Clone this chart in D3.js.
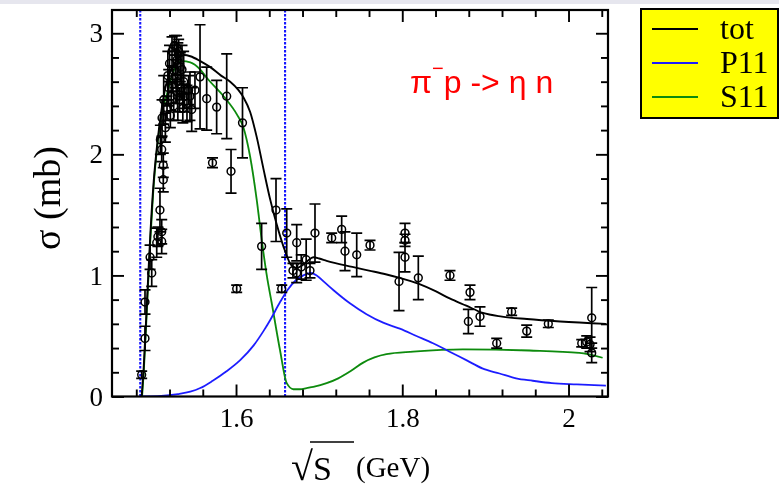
<!DOCTYPE html>
<html><head><meta charset="utf-8">
<script src="https://cdn.jsdelivr.net/npm/d3@7"></script>
<style>body{margin:0;background:#fff;} svg{display:block}</style>
</head><body>
<svg id="c" width="779" height="488"></svg>
<script>
// ---- data ----
const totX = [1.4865,1.489,1.493,1.497,1.501,1.505,1.510,1.515,1.520,1.527,1.538,1.545,1.557,1.569,1.582,1.593,1.603,1.609,1.617,1.625,1.633,1.641,1.649,1.657,1.665,1.672,1.679,1.686,1.693,1.700,1.709,1.740,1.760,1.780,1.797,1.820,1.840,1.857,1.877,1.897,1.920,1.950,1.990,2.045];
const totY = [0,0.25,0.8,1.35,1.78,2.07,2.35,2.55,2.67,2.76,2.82,2.81,2.77,2.72,2.65,2.60,2.53,2.47,2.35,2.14,1.88,1.63,1.42,1.24,1.10,1.06,1.08,1.12,1.15,1.14,1.12,1.07,1.04,1.01,0.98,0.93,0.87,0.81,0.75,0.69,0.66,0.64,0.62,0.60];
const p11X = [1.4855,1.51,1.53,1.545,1.557,1.572,1.589,1.605,1.621,1.633,1.641,1.653,1.662,1.672,1.681,1.690,1.697,1.707,1.717,1.737,1.757,1.777,1.797,1.817,1.837,1.857,1.877,1.897,1.917,1.937,1.957,1.980,2.010,2.045];
const p11Y = [0,0.005,0.02,0.04,0.07,0.13,0.21,0.30,0.42,0.54,0.63,0.78,0.88,0.96,1.00,1.02,1.00,0.94,0.88,0.77,0.68,0.61,0.56,0.50,0.44,0.37,0.30,0.23,0.19,0.15,0.13,0.11,0.10,0.09];
const s11X = [1.487,1.489,1.493,1.497,1.5005,1.5047,1.511,1.517,1.5243,1.535,1.545,1.557,1.565,1.585,1.601,1.609,1.617,1.625,1.631,1.637,1.643,1.653,1.661,1.669,1.677,1.685,1.693,1.709,1.723,1.738,1.753,1.781,1.813,1.873,1.953,2.013,2.041];
const s11Y = [0,0.2,0.75,1.3,1.7,2.03,2.35,2.5,2.68,2.77,2.76,2.70,2.63,2.48,2.33,2.22,1.98,1.62,1.29,1.0,0.77,0.38,0.11,0.06,0.06,0.07,0.08,0.11,0.15,0.21,0.28,0.35,0.37,0.39,0.38,0.36,0.32];

const dataX = [1.4865,1.4905,1.4905,1.4986,1.4966,1.5046,1.5106,1.5106,1.506,1.5085,1.5125,1.5125,1.5106,
  1.509,1.511,1.513,1.515,1.517,1.519,1.521,1.522,1.524,1.525,1.527,1.528,1.529,1.530,1.531,1.532,1.533,1.534,1.536,1.538,1.541,1.543,1.5446,1.5467,1.5506,
  1.518,1.520,1.523,1.526,1.5285,1.535,1.537,
  1.5567,1.5647,1.5767,1.5888,1.6078,1.5717,1.5940,1.6008,1.6308,1.6481,1.6610,1.6550,1.6730,1.6844,1.6785,1.6730,1.6685,1.6890,1.6950,
  1.7151,1.7271,1.7311,1.7452,1.7612,1.8033,1.8033,1.8033,1.7961,1.8193,1.8574,1.8815,1.8795,1.8935,1.9316,1.9497,1.9136,1.9757,2.0279,2.0159,2.0219,2.0259,2.0279];
const dataY = [0.18,0.48,0.78,1.02,1.15,1.27,1.28,1.36,1.32,1.54,1.79,1.91,2.04,
  2.12,2.30,2.45,2.22,2.38,2.55,2.32,2.48,2.62,2.40,2.70,2.52,2.78,2.60,2.85,2.45,2.72,2.55,2.38,2.48,2.42,2.53,2.48,2.37,2.53,
  2.65,2.75,2.85,2.90,2.88,2.70,2.60,
  2.64,2.46,2.39,2.48,2.26,1.93,1.86,0.89,1.24,1.54,1.35,0.89,1.27,1.13,1.07,1.02,1.04,1.04,1.35,
  1.31,1.38,1.20,1.17,1.25,1.35,1.29,1.15,0.95,0.98,1.00,0.86,0.62,0.66,0.70,0.54,0.44,0.60,0.65,0.44,0.45,0.43,0.36];
const dataErr = [0.03,0.10,0.10,0.11,0.10,0.12,0.10,0.10,0.08,0.18,0.10,0.10,0.10,
  0.12,0.15,0.20,0.12,0.10,0.15,0.10,0.12,0.10,0.12,0.15,0.10,0.12,0.32,0.10,0.10,0.12,0.10,0.12,0.10,0.15,0.12,0.20,0.18,0.15,
  0.20,0.15,0.12,0.08,0.10,0.20,0.25,
  0.43,0.26,0.22,0.35,0.29,0.04,0.18,0.03,0.19,0.26,0.20,0.03,0.15,0.17,0.10,0.08,0.06,0.06,0.24,
  0.04,0.11,0.16,0.18,0.04,0.08,0.05,0.12,0.24,0.18,0.04,0.06,0.10,0.08,0.03,0.05,0.04,0.03,0.25,0.03,0.05,0.06,0.08];

const xMajor = [1.6, 1.8, 2.0];
const xMajorLabels = ["1.6", "1.8", "2"];
const xMinor = [1.48,1.52,1.56,1.64,1.68,1.72,1.76,1.84,1.88,1.92,1.96,2.04];
const yMajor = [0, 1, 2, 3];
const yMajorLabels = ["0", "1", "2", "3"];
const yMinor = [0.2,0.4,0.6,0.8,1.2,1.4,1.6,1.8,2.2,2.4,2.6,2.8];
const thresholds = [1.4848, 1.659];
const legendLabels = ["tot", "P11", "S11"];
const xDomain = [1.4508, 2.0475];
const yDomain = [0, 3.192];

// ---- drawing ----
const svg = d3.select("#c").style("font-family","Liberation Serif, serif");
const L = 112, R = 608, T = 10, B = 396.5;
const x = d3.scaleLinear().domain(xDomain).range([L, R]);
const y = d3.scaleLinear().domain(yDomain).range([B, T]);

const defs = svg.append("defs");
defs.append("filter").attr("id","soft").attr("x","-5%").attr("y","-5%").attr("width","110%").attr("height","110%")
  .append("feGaussianBlur").attr("stdDeviation",0.45);

svg.append("rect").attr("x",0).attr("y",0).attr("width",779).attr("height",4).attr("fill","#e6e6ee");

const root = svg.append("g").attr("filter","url(#soft)");
const serif = "Liberation Serif, serif";
const cols = {tot:"#000000", P11:"#1f1fff", S11:"#0a8a0a"};

// clip
defs.append("clipPath").attr("id","pc").append("rect").attr("x",L).attr("y",T).attr("width",R-L).attr("height",B-T);
const plot = root.append("g").attr("clip-path","url(#pc)");

// threshold lines
plot.selectAll("line.th").data(thresholds).enter().append("line")
  .attr("x1",d=>x(d)).attr("x2",d=>x(d)).attr("y1",T).attr("y2",B)
  .attr("stroke","#1414ff").attr("stroke-width",2.1).attr("stroke-dasharray","2.4,1.6");

function drawCurve(xs, ys, color, w){
  const pts = xs.map((v,i)=>[v, ys[i]]);
  plot.append("path").datum(pts)
    .attr("d", d3.line().x(d=>x(d[0])).y(d=>y(d[1])).curve(d3.curveMonotoneX))
    .attr("fill","none").attr("stroke",color).attr("stroke-width",w);
}
drawCurve(s11X, s11Y, cols.S11, 1.8);
drawCurve(p11X, p11Y, cols.P11, 1.8);
drawCurve(totX, totY, cols.tot, 1.9);

// data points
const pts = dataX.map((v,i)=>({x:v, y:dataY[i], e:dataErr[i]}));
const g = plot.append("g").attr("stroke","#000").attr("stroke-width",1.7).attr("fill","none");
pts.forEach(p=>{
  const cx = x(p.x), y1 = y(p.y - p.e), y2 = y(p.y + p.e);
  g.append("line").attr("x1",cx).attr("x2",cx).attr("y1",y1).attr("y2",y2);
  g.append("line").attr("x1",cx-5.5).attr("x2",cx+5.5).attr("y1",y1).attr("y2",y1);
  g.append("line").attr("x1",cx-5.5).attr("x2",cx+5.5).attr("y1",y2).attr("y2",y2);
  g.append("circle").attr("cx",cx).attr("cy",y(p.y)).attr("r",3.9).attr("stroke-width",1.5);
});

// axes
function axisG(axis, tx, ty){
  const a = root.append("g").attr("transform",`translate(${tx},${ty})`).call(axis);
  a.attr("font-family",serif);
  a.select(".domain").remove();
  a.selectAll("line").attr("stroke","#000").attr("stroke-width",1.9);
  a.selectAll("text").attr("font-family",serif).attr("font-size",27).attr("fill","#000");
  return a;
}
axisG(d3.axisBottom(x).tickValues(xMajor).tickSize(-12).tickPadding(11).tickFormat((d,i)=>xMajorLabels[i]), 0, B);
axisG(d3.axisBottom(x).tickValues(xMinor).tickSize(-7).tickFormat(""), 0, B);
axisG(d3.axisTop(x).tickValues(xMajor).tickSize(-12).tickFormat(""), 0, T);
axisG(d3.axisTop(x).tickValues(xMinor).tickSize(-7).tickFormat(""), 0, T);
axisG(d3.axisLeft(y).tickValues(yMajor).tickSize(-12).tickPadding(9).tickFormat((d,i)=>yMajorLabels[i]), L, 0);
axisG(d3.axisLeft(y).tickValues(yMinor).tickSize(-7).tickFormat(""), L, 0);
axisG(d3.axisRight(y).tickValues(yMajor).tickSize(-12).tickFormat(""), R, 0);
axisG(d3.axisRight(y).tickValues(yMinor).tickSize(-7).tickFormat(""), R, 0);

// frame
root.append("rect").attr("x",L).attr("y",T).attr("width",R-L).attr("height",B-T)
  .attr("fill","none").attr("stroke","#000").attr("stroke-width",2.2);

// axis titles
root.append("text").attr("transform","translate(60,198) rotate(-90)")
  .attr("text-anchor","middle").attr("font-family",serif).attr("font-size",38).attr("fill","#000")
  .text("σ (mb)");
const xt = root.append("text").attr("font-family",serif).attr("fill","#000").attr("x",291).attr("y",480);
xt.append("tspan").attr("font-size",40).text("√");
xt.append("tspan").attr("font-size",34).text("S");
root.append("line").attr("x1",310).attr("x2",354).attr("y1",442).attr("y2",442).attr("stroke","#000").attr("stroke-width",1.6);
root.append("text").attr("x",356).attr("y",477).attr("font-family",serif).attr("font-size",29).attr("fill","#000").text("(GeV)");

// reaction label
const rt = root.append("text").attr("x",410).attr("y",93).attr("font-family","Liberation Sans, Arial, sans-serif")
  .attr("font-size",32).attr("fill","#ff0000");
rt.append("tspan").text("π");
rt.append("tspan").attr("font-size",20).attr("dy",-18).text("−");
rt.append("tspan").attr("dy",18).text("p -> η n");

// legend
root.append("rect").attr("x",641).attr("y",9).attr("width",137).attr("height",109)
  .attr("fill","#ffff00").attr("stroke","#000").attr("stroke-width",2);
const lg = root.selectAll("g.lg").data(legendLabels).enter().append("g")
  .attr("transform",(d,i)=>`translate(0,${29 + i*34})`);
lg.append("line").attr("x1",652).attr("x2",698).attr("y1",0).attr("y2",0)
  .attr("stroke",d=>cols[d]).attr("stroke-width",2);
lg.append("text").attr("x",720).attr("y",10).attr("font-family",serif).attr("font-size",32).attr("fill","#000").text(d=>d);
</script>
</body></html>
